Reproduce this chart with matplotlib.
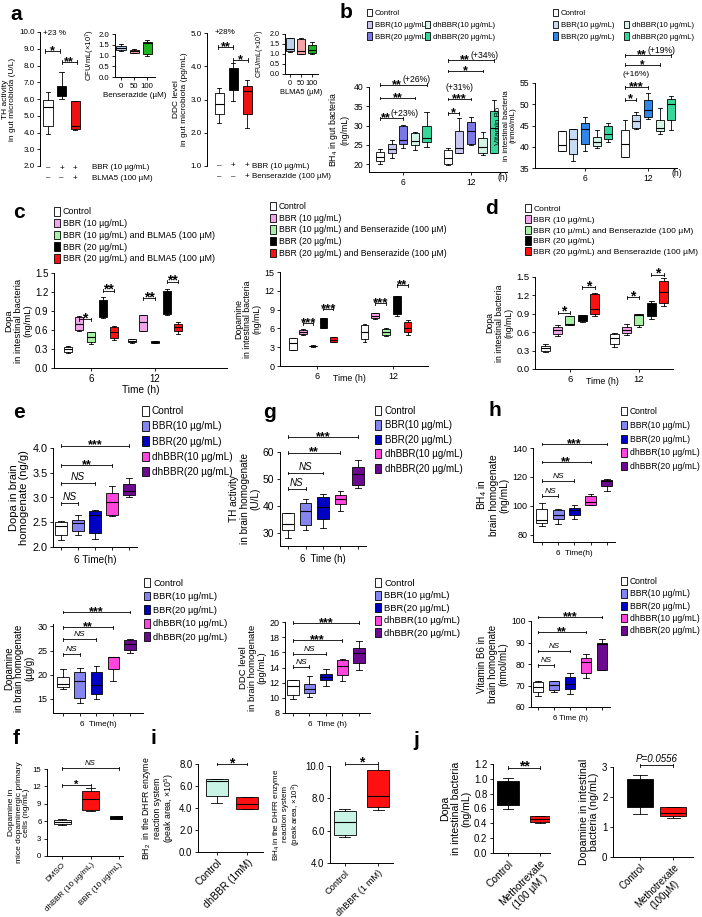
import numpy as np
import matplotlib.pyplot as plt
from matplotlib.patches import Patch
from matplotlib.transforms import blended_transform_factory

plt.rcParams['font.family'] = ['Liberation Sans', 'DejaVu Sans']
plt.rcParams['mathtext.default'] = 'regular'
plt.rcParams['axes.linewidth'] = 0.7

# ---- data: [whisker low, Q1, median, Q3, whisker high] per box ----
A_TH = [[3.9, 4.4, 5.5, 5.95, 6.4], [6.0, 6.2, 6.5, 6.8, 7.6], [4.15, 4.2, 4.4, 5.9, 5.9]]
A_TH_CFU = [[1.2, 1.25, 1.35, 1.45, 1.55], [1.1, 1.12, 1.2, 1.27, 1.3], [1.0, 1.05, 1.6, 1.65, 1.7]]
A_DDC = [[2.3, 2.55, 2.85, 3.2, 3.35], [2.95, 3.3, 3.6, 3.95, 4.1], [2.15, 2.55, 3.25, 3.4, 3.6]]
A_DDC_CFU = [[1.1, 1.15, 1.25, 1.8, 1.8], [1.0, 1.02, 1.15, 1.75, 1.8], [1.0, 1.05, 1.2, 1.45, 1.6]]
CFU_DOSES = ['0', '50', '100']

B_BH4_6 = [[20.0, 20.8, 22.0, 23.2, 24.0], [21.5, 23.0, 23.9, 25.2, 26.4], [24.2, 25.2, 26.3, 29.9, 30.2],
           [23.8, 25.1, 26.1, 28.0, 28.3], [24.5, 25.7, 26.7, 29.9, 33.6]]
B_BH4_12 = [[19.9, 20.0, 21.5, 23.7, 24.2], [22.8, 22.9, 24.3, 28.6, 32.0], [25.0, 25.2, 28.7, 30.9, 32.3],
            [22.3, 23.0, 24.5, 26.7, 28.3], [22.8, 23.0, 29.3, 33.7, 36.7]]
B_VB6_6 = [[39.1, 39.1, 40.3, 43.7, 43.8], [36.6, 38.3, 41.8, 44.1, 44.1], [39.1, 40.7, 44.1, 45.5, 47.1],
           [39.7, 40.2, 41.2, 42.4, 43.9], [41.2, 41.8, 43.0, 44.9, 45.7]]
B_VB6_12 = [[37.5, 37.7, 40.7, 43.9, 46.4], [44.2, 44.3, 46.0, 47.5, 48.2], [46.5, 46.9, 48.6, 51.0, 52.6],
            [43.0, 43.8, 44.3, 46.3, 49.2], [44.0, 46.4, 50.0, 51.3, 52.0]]

C_DOPA_6 = [[0.24, 0.25, 0.30, 0.33, 0.34], [0.58, 0.60, 0.70, 0.80, 0.82], [0.38, 0.41, 0.49, 0.57, 0.57],
            [0.79, 0.81, 0.95, 1.07, 1.12], [0.44, 0.48, 0.57, 0.64, 0.66]]
C_DOPA_12 = [[0.40, 0.41, 0.43, 0.46, 0.46], [0.58, 0.59, 0.73, 0.84, 0.84], [0.40, 0.40, 0.41, 0.42, 0.42],
             [0.83, 0.85, 1.05, 1.22, 1.25], [0.54, 0.58, 0.64, 0.70, 0.72]]
C_DA_6 = [[2.5, 2.6, 3.6, 4.4, 4.5], [5.0, 5.1, 5.5, 5.8, 5.9], [3.1, 3.15, 3.2, 3.25, 3.3],
          [6.0, 6.1, 7.0, 7.6, 7.7], [3.8, 3.8, 4.2, 4.6, 4.7]]
C_DA_12 = [[3.9, 4.3, 5.5, 6.5, 6.7], [7.5, 7.6, 8.0, 8.4, 8.5], [4.8, 4.9, 5.4, 5.9, 6.0],
           [8.0, 8.3, 9.5, 11.1, 11.2], [5.0, 5.5, 6.1, 7.0, 7.3]]
D_DOPA_6 = [[0.28, 0.30, 0.34, 0.38, 0.40], [0.54, 0.57, 0.63, 0.69, 0.72], [0.72, 0.72, 0.74, 0.86, 0.87],
            [0.77, 0.79, 0.83, 0.88, 0.88], [0.86, 0.89, 0.98, 1.23, 1.24]]
D_DOPA_12 = [[0.36, 0.40, 0.50, 0.57, 0.58], [0.55, 0.58, 0.63, 0.69, 0.73], [0.69, 0.72, 0.88, 0.89, 0.90],
             [0.82, 0.87, 0.97, 1.07, 1.11], [1.03, 1.08, 1.25, 1.44, 1.48]]

E_DOPA = [[2.15, 2.25, 2.42, 2.5, 2.52], [2.24, 2.33, 2.48, 2.55, 2.64], [2.17, 2.28, 2.65, 2.73, 2.75],
          [2.63, 2.64, 2.9, 3.1, 3.23], [3.02, 3.05, 3.13, 3.27, 3.4]]
G_TH = [[28.0, 31.2, 33.5, 37.5, 37.5], [31.0, 32.8, 38.0, 41.1, 42.5], [31.9, 35.1, 39.6, 43.3, 44.4],
        [38.3, 40.9, 42.7, 44.1, 45.4], [46.5, 47.7, 52.0, 54.4, 56.9]]
H_BH4 = [[86.2, 88.1, 90.4, 97.8, 101.9], [87.7, 90.8, 93.8, 97.3, 97.9], [91.0, 93.8, 97.3, 98.5, 100.3],
         [100.3, 100.8, 103.0, 107.0, 108.0], [110.4, 113.9, 116.9, 118.1, 118.7]]
E_DA = [[17.0, 17.4, 18.1, 19.6, 21.3], [14.2, 15.2, 18.8, 20.6, 21.5], [14.9, 16.0, 17.9, 20.5, 21.8],
        [18.8, 21.1, 23.6, 23.7, 23.7], [24.6, 25.2, 26.4, 27.1, 27.5]]
G_DDC = [[9.8, 10.4, 11.6, 12.3, 12.3], [10.1, 10.7, 11.2, 11.8, 12.9], [11.5, 12.3, 12.8, 13.2, 13.8],
         [12.2, 13.0, 14.2, 15.0, 15.1], [13.7, 14.6, 15.9, 16.6, 17.5]]
H_VB6 = [[65.0, 67.0, 69.3, 71.6, 72.0], [67.0, 67.8, 70.1, 71.9, 72.1], [66.1, 68.5, 70.9, 74.0, 76.0],
         [73.5, 75.8, 80.9, 82.9, 84.7], [77.0, 77.4, 89.1, 89.8, 91.5]]

F_DA = [[5.3, 5.5, 5.9, 6.2, 6.3], [7.7, 8.0, 9.8, 11.2, 11.7], [6.3, 6.35, 6.6, 6.85, 6.9]]
I_BH2 = [[4.5, 5.06, 6.48, 6.64, 6.64], [3.9, 3.94, 4.36, 4.97, 5.0]]
I_BH4 = [[5.6, 5.74, 6.52, 7.21, 7.35], [7.28, 7.48, 8.16, 9.74, 10.06]]
J_DOPA = [[0.6, 0.65, 0.8, 0.97, 1.01], [0.41, 0.42, 0.46, 0.50, 0.50]]
J_DA = [[1.44, 1.67, 2.2, 2.61, 2.75], [1.29, 1.37, 1.48, 1.67, 1.67]]

LAB_B = ['Control', 'BBR(10 µg/mL)', 'BBR(20 µg/mL)', 'dhBBR(10 µg/mL)', 'dhBBR(20 µg/mL)']
LAB_C1 = ['Control', 'BBR (10 µg/mL)', 'BBR (10 µg/mL) and BLMA5 (100 µM)', 'BBR (20 µg/mL)',
          'BBR (20 µg/mL) and BLMA5 (100 µM)']
LAB_C2 = ['Control', 'BBR (10 µg/mL)', 'BBR (10 µg/mL) and Benserazide (100 µM)', 'BBR (20 µg/mL)',
          'BBR (20 µg/mL) and Benserazide (100 µM)']
LAB_D = ['Control', 'BBR (10 µg/mL)', 'BBR (10 µ/mL) and Benserazide (100 µM)', 'BBR (20 µg/mL)',
         'BBR (20 µg/mL) and Benserazide (100 µM)']
LAB_E = ['Control', 'BBR(10 µg/mL)', 'BBR(20 µg/mL)', 'dhBBR(10 µg/mL)', 'dhBBR(20 µg/mL)']

COL_BL = ['white', '#c9c6f2', '#7b78e6', '#d4f5e6', '#35d89a']
COL_BR = ['white', '#c6dcf5', '#2f86e8', '#d4f5e6', '#35d89a']
COL_C = ['white', '#f2a6ea', '#a8f0a8', 'black', '#ff1010']
COL_E = ['white', '#8585f2', '#0000c4', '#ff45dc', '#6b0a8f']
COL_CFU = ['#b9d3ee', '#f4a6a6', '#1db41d']

W, H = 702, 917
fig = plt.figure(figsize=(W / 100, H / 100), dpi=100)


def add_ax(x0, y0, x1, y1):
    return fig.add_axes([x0 / W, 1 - y1 / H, (x1 - x0) / W, (y1 - y0) / H])


def boxes(ax, data, pos, colors, width):
    stats = [dict(whislo=d[0], q1=d[1], med=d[2], q3=d[3], whishi=d[4]) for d in data]
    bp = ax.bxp(stats, positions=pos, widths=width, patch_artist=True, showfliers=False,
                manage_ticks=False, boxprops=dict(linewidth=0.6, edgecolor='k'),
                whiskerprops=dict(linewidth=0.6, color='k'), capprops=dict(linewidth=0.6, color='k'),
                medianprops=dict(linewidth=0.8, color='k'))
    for b, c in zip(bp['boxes'], colors):
        b.set_facecolor(c)


def frame(ax, xlim, ylim, yticks, fmt, fs):
    ax.set_xlim(xlim)
    ax.set_ylim(ylim)
    ax.set_yticks(yticks)
    ax.set_yticklabels([fmt.format(v) for v in yticks])
    ax.spines[['top', 'right']].set_visible(False)
    ax.tick_params(length=2.5, width=0.6, labelsize=fs, pad=1.5)
    ax.patch.set_alpha(0)


def ylab(ax, txt, fs, pad=2):
    ax.set_ylabel(txt, fontsize=fs, labelpad=pad, linespacing=1.05)


def sig(ax, x1, x2, y, txt, extra=None, size=9, fs=6):
    cap = np.diff(ax.get_ylim())[0] * 0.015
    ax.plot([x1, x2], [y, y], color='k', lw=0.6, clip_on=False)
    for x in (x1, x2):
        ax.plot([x, x], [y - cap, y + cap], color='k', lw=0.6, clip_on=False)
    xm = (x1 + x2) / 2
    if txt == 'NS' or txt.startswith('P='):
        ax.annotate(txt, (xm, y), xytext=(0, 0.8), textcoords='offset points', ha='center',
                    va='bottom', fontsize=fs, style='italic', annotation_clip=False)
    elif extra:
        ax.annotate(txt, (xm, y), xytext=(-1, -2.2), textcoords='offset points', ha='right',
                    va='baseline', fontsize=size, fontweight='bold', annotation_clip=False)
        ax.annotate(extra, (xm, y), xytext=(-0.5, 3.4), textcoords='offset points', ha='left',
                    va='center', fontsize=fs, annotation_clip=False)
    else:
        ax.annotate(txt, (xm, y), xytext=(0, -2.2), textcoords='offset points', ha='center',
                    va='baseline', fontsize=size, fontweight='bold', annotation_clip=False)


def legend(x, y, labels, colors, fs, spacing=0.3):
    hs = [Patch(facecolor=c, edgecolor='k', lw=0.6) for c in colors]
    fig.legend(hs, labels, loc='upper left', bbox_to_anchor=(x / W, 1 - y / H), frameon=False,
               fontsize=fs, handlelength=0.65, handleheight=1.1, handletextpad=0.35,
               labelspacing=spacing, borderpad=0, borderaxespad=0)


def letter(x, y, s):
    fig.text(x / W, 1 - y / H, s, fontsize=15, fontweight='bold', ha='left', va='center')


def grp(center, step, n=5):
    return center + (np.arange(n) - (n - 1) / 2) * step


def rot_labels(ax, labels, fs):
    ax.set_xticks(np.arange(1, len(labels) + 1))
    ax.set_xticklabels(labels, rotation=45, ha='right', va='top', rotation_mode='anchor',
                       fontsize=fs, multialignment='center')


# ---------------- panel a ----------------
letter(10, 14, 'a')
ax = add_ax(40, 32, 86, 166)
boxes(ax, A_TH, [1, 2, 3], ['white', 'black', '#ee1111'], 0.68)
frame(ax, (0.41, 3.8), (2, 10), np.arange(2, 10.1, 1), '{:.1f}', 5.8)
ax.spines['bottom'].set_visible(False)
ax.set_xticks([])
ylab(ax, 'TH activity\nin gut microbiota (U/L)', 6)
ax.text(0.63, 9.9, '+23 %', fontsize=5.8, va='center')
sig(ax, 0.8, 1.9, 8.87, '*')
sig(ax, 2.0, 3.1, 8.2, '**')
tr = blended_transform_factory(ax.transData, ax.transAxes)
for i, (s1, s2) in enumerate(zip(['–', '+', '+'], ['–', '–', '+'])):
    ax.text(i + 1, -0.015, s1, transform=tr, ha='center', va='center', fontsize=5.8)
    ax.text(i + 1, -0.09, s2, transform=tr, ha='center', va='center', fontsize=5.8)
ax.text(4.26, -0.01, 'BBR (10 µg/mL)', transform=tr, va='center', fontsize=5.8)
ax.text(4.26, -0.09, 'BLMA5 (100 µM)', transform=tr, va='center', fontsize=5.8)

ax = add_ax(115, 34, 155, 77)
boxes(ax, A_TH_CFU, [1, 2, 3], COL_CFU, 0.7)
frame(ax, (0.54, 3.6), (0, 2), np.arange(0, 2.01, 0.5), '{:.1f}', 5.6)
ax.set_xticks([1, 2, 3])
ax.set_xticklabels(CFU_DOSES)
ax.set_xlabel('Benserazide (µM)', fontsize=5.8, labelpad=1.5)
ylab(ax, 'CFU/mL(×10$^7$)', 5.6, 1.5)

ax = add_ax(207, 33, 255, 166)
boxes(ax, A_DDC, [1, 2, 3], ['white', 'black', '#ee1111'], 0.64)
frame(ax, (0.14, 3.57), (1, 5), np.arange(1, 5.1, 1), '{:.1f}', 5.8)
ax.spines['bottom'].set_visible(False)
ax.set_xticks([])
ylab(ax, 'DDC level\nin gut microbiota (pg/mL)', 6)
ax.text(0.71, 5.0, '+28%', fontsize=5.8, va='center')
sig(ax, 0.93, 2.0, 4.58, '**')
sig(ax, 2.0, 3.07, 4.19, '*')
tr = blended_transform_factory(ax.transData, ax.transAxes)
for i, (s1, s2) in enumerate(zip(['–', '+', '+'], ['–', '–', '+'])):
    ax.text(i + 1, 0.0, s1, transform=tr, ha='center', va='center', fontsize=5.8)
    ax.text(i + 1, -0.08, s2, transform=tr, ha='center', va='center', fontsize=5.8)
ax.text(3.35, 0.0, 'BBR (10 µg/mL)', transform=tr, va='center', fontsize=5.8)
ax.text(3.35, -0.08, 'Benserazide (100 µM)', transform=tr, va='center', fontsize=5.8)

ax = add_ax(285, 34, 318, 74)
boxes(ax, A_DDC_CFU, [1, 2, 3], COL_CFU, 0.7)
frame(ax, (0.55, 3.55), (0, 2), np.arange(0, 2.01, 0.5), '{:.1f}', 5.2)
ax.set_xticks([1, 2, 3])
ax.set_xticklabels(CFU_DOSES)
ax.set_xlabel('BLMA5 (µM)', fontsize=5.4, labelpad=1.5)
ylab(ax, 'CFU/mL(×10$^7$)', 5.2, 1.5)

# ---------------- panel b ----------------
letter(340, 12, 'b')
legend(367, 9, LAB_B[:3], COL_BL[:3], 5.6, 0.42)
legend(425, 20.5, LAB_B[3:], COL_BL[3:], 5.6, 0.42)
ax = add_ax(369, 87, 507, 172)
p6, p12 = grp(6, 1.03), grp(12, 1.03)
boxes(ax, B_BH4_6, p6, COL_BL, 0.72)
boxes(ax, B_BH4_12, p12, COL_BL, 0.72)
frame(ax, (2.96, 15.2), (18, 40), [20, 25, 30, 35, 40], '{:g}', 6.2)
ax.set_xticks([6, 12])
ax.text(0.97, -0.07, '(h)', transform=ax.transAxes, ha='center', va='center', fontsize=6.2)
ylab(ax, 'BH$_4$ in gut bacteria\n(ng/mL)', 6.3, 3)
sig(ax, p6[0], p6[2], 31.9, '**', '(+23%)', fs=6.2)
sig(ax, p6[0], p6[3], 37.1, '**')
sig(ax, p6[0], p6[4], 40.6, '**', '(+26%)', fs=6.2)
sig(ax, p12[0], p12[1], 33.2, '*')
sig(ax, p12[0], p12[2], 36.9, '***')
ax.text((p12[0] + p12[2]) / 2, 40.0, '(+31%)', ha='center', va='center', fontsize=6.2)
sig(ax, p12[0], p12[3], 44.1, '*')
sig(ax, p12[0], p12[4], 46.9, '**', '(+34%)', fs=6.2)

legend(553, 9, LAB_B[:3], COL_BR[:3], 5.6, 0.42)
legend(624, 20.5, LAB_B[3:], COL_BR[3:], 5.6, 0.42)
ax = add_ax(535, 83, 677, 168)
p6, p12 = grp(6, 1.1), grp(12, 1.1)
boxes(ax, B_VB6_6, p6, COL_BR, 0.76)
boxes(ax, B_VB6_12, p12, COL_BR, 0.76)
frame(ax, (1.24, 14.76), (35, 55), [35, 40, 45, 50, 55], '{:g}', 6.2)
ax.set_xticks([6, 12])
ax.text(1.0, -0.07, '(h)', transform=ax.transAxes, ha='center', va='center', fontsize=6.2)
ylab(ax, 'Vitamin B6\nin intestinal bacteria\n(nmol/mL)', 5.8)
sig(ax, p12[0], p12[1], 51.1, '*')
sig(ax, p12[0], p12[2], 54.0, '***')
ax.text((p12[0] + p12[2]) / 2, 57.1, '(+16%)', ha='center', va='center', fontsize=6.0)
sig(ax, p12[0], p12[3], 59.3, '*', size=8.5)
sig(ax, p12[0], p12[4], 61.5, '**', '(+19%)', fs=6.2)

# ---------------- panel c ----------------
letter(13, 212, 'c')
legend(54, 207, LAB_C1, COL_C, 6.4, 0.28)
ax = add_ax(54, 273, 227, 368)
p6, p12 = grp(6, 1.1), grp(12, 1.1)
boxes(ax, C_DOPA_6, p6, COL_C, 0.75)
boxes(ax, C_DOPA_12, p12, COL_C, 0.75)
frame(ax, (2.53, 18.75), (0, 1.5), np.arange(0, 1.51, 0.3), '{:.1f}', 7)
ax.set_xticks([6, 12])
ax.set_xlabel('Time (h)', fontsize=7.3, labelpad=1)
ylab(ax, 'Dopa\nin intestinal bacteria\n(ng/mL)', 6.8)
sig(ax, p6[1], p6[2], 0.77, '*', size=10)
sig(ax, p6[3], p6[4], 1.22, '**', size=10)
sig(ax, p12[1], p12[2], 1.10, '**', size=10)
sig(ax, p12[3], p12[4], 1.36, '**', size=10)

legend(270, 202, LAB_C2, COL_C, 6.2, 0.3)
ax = add_ax(280, 272, 428, 366)
p6, p12 = grp(5.7, 0.8), grp(11.45, 0.85)
boxes(ax, C_DA_6, p6, COL_C, 0.6)
boxes(ax, C_DA_12, p12, COL_C, 0.6)
frame(ax, (3.08, 14.76), (0, 15), np.arange(0, 15.1, 3), '{:g}', 6.5)
ax.set_xticks([6, 12])
ax.text(0.47, -0.13, 'Time (h)', transform=ax.transAxes, ha='center', va='center', fontsize=6.4)
ylab(ax, 'Dopamine\nin intestinal bacteria\n(ng/mL)', 6.3)
sig(ax, p6[1], p6[2], 6.8, '***', size=9.5)
sig(ax, p6[3], p6[4], 9.1, '***', size=9.5)
sig(ax, p12[1], p12[2], 10.0, '***', size=9.5)
sig(ax, p12[3], p12[4], 12.9, '**', size=9.5)

# ---------------- panel d ----------------
letter(485, 209, 'd')
legend(525, 204, LAB_D, COL_C, 6.1, 0.22)
ax = add_ax(535, 277, 673, 369)
p6, p12 = grp(6, 1.07), grp(12, 1.07)
boxes(ax, D_DOPA_6, p6, COL_C, 0.78)
boxes(ax, D_DOPA_12, p12, COL_C, 0.78)
frame(ax, (2.96, 14.96), (0, 1.5), np.arange(0, 1.51, 0.3), '{:.1f}', 6.8)
ax.set_xticks([6, 12])
ax.text(0.49, -0.14, 'Time (h)', transform=ax.transAxes, ha='center', va='center', fontsize=6.4)
ylab(ax, 'Dopa\nin intestinal bacteria\n(ng/mL)', 6.3)
sig(ax, p6[1], p6[2], 0.92, '*', size=10)
sig(ax, p6[3], p6[4], 1.33, '*', size=10)
sig(ax, p12[1], p12[2], 1.17, '*', size=10)
sig(ax, p12[3], p12[4], 1.54, '*', size=10)


# ---------------- panels e, g, h ----------------
def brain(rect, data, xlim, ylim, yticks, fmt, fs, label, lfs, marks, xlab, sfs=9):
    ax = add_ax(*rect)
    pos = np.arange(1, 6)
    boxes(ax, data, pos, COL_E, 0.68)
    frame(ax, xlim, ylim, yticks, fmt, fs)
    ax.set_xticks(pos)
    ax.set_xticklabels([])
    ax.tick_params(axis='x', length=2)
    ax.set_xlabel(xlab, fontsize=fs - 0.6, labelpad=2)
    ylab(ax, label, lfs)
    for j, (y, t) in enumerate(marks):
        sig(ax, 1, j + 2, y, t, size=sfs, fs=fs - 0.5)
    return ax


letter(13, 413, 'e')
legend(142, 406, LAB_E, COL_E, 7.2, 0.5)
brain((53, 448, 137, 547), E_DOPA, (0.53, 5.47), (2.0, 4.0), [2.0, 2.5, 3.0, 3.5, 4.0], '{:.1f}', 7.8,
      'Dopa in brain\nhomogenate (ng/g)', 8, [(2.88, 'NS'), (3.29, 'NS'), (3.65, '**'), (4.05, '***')],
      '6 Time(h)')

letter(263, 413, 'g')
legend(375, 406, LAB_E, COL_E, 7.0, 0.45)
brain((280, 452, 366, 546), G_TH, (0.54, 5.46), (25.2, 60), [30, 40, 50, 60], '{:g}', 7.5,
      'TH activity\nin brain homogenate\n(U/L)', 7.2, [(46.4, 'NS'), (52.2, 'NS'), (59.8, '**'), (65.6, '***')],
      '6  Time (h)')

letter(488, 411, 'h')
legend(621, 407, LAB_E, COL_E, 6.2, 0.55)
brain((533, 448, 615, 542), H_BH4, (0.45, 5.5), (75, 140), [80, 100, 120, 140], '{:g}', 6.5,
      'BH$_4$ in\nbrain homogenate\n(ng/mL)', 7.3, [(107, 'NS'), (117.4, 'NS'), (130.3, '**'), (142.8, '***')],
      '6  Time(h)')

legend(144, 578, LAB_E, COL_E, 6.7, 0.42)
brain((53, 624, 143, 713), E_DA, (0.4, 5.78), (12.1, 30.5), [15, 20, 25, 30], '{:g}', 6.5,
      'Dopamine\nin brain homogenate\n(µg/g)', 6.9, [(24.2, 'NS'), (27.3, 'NS'), (29.8, '**'), (33.0, '***')],
      '6  Time(h)')

legend(375, 578, LAB_E, COL_E, 6.8, 0.3)
brain((285, 622, 370, 713), G_DDC, (0.52, 5.67), (8, 20), np.arange(8, 20.1, 2), '{:g}', 6.5,
      'DDC level\nin brain homogenate\n(pg/mL)', 6.8, [(14.1, 'NS'), (15.8, 'NS'), (17.6, '***'), (19.9, '***')],
      '6  Time (h)')

legend(621, 577, LAB_E, COL_E, 6.2, 0.38)
brain((531, 621, 610, 707), H_VB6, (0.56, 5.5), (60, 100), [60, 70, 80, 90, 100], '{:g}', 6.2,
      'Vitamin B6 in\nbrain homogenate\n(nmol/mL)', 7.0, [(79.4, 'NS'), (86.0, 'NS'), (94.9, '**'), (101.9, '***')],
      '6 Time (h)')

# ---------------- panel f ----------------
letter(13, 738, 'f')
ax = add_ax(47, 769, 123, 856)
boxes(ax, F_DA, [1, 2, 3], ['white', '#ff1010', 'black'], 0.6)
frame(ax, (0.47, 3.14), (0, 15), np.arange(0, 15.1, 3), '{:g}', 5.6)
rot_labels(ax, ['DMSO', 'dhBBR (10 µg/mL)', 'BBR (10 µg/mL)'], 5.8)
ylab(ax, 'Dopamine in\nmice dopaminergic primary\ncells (ng/mL)', 6)
sig(ax, 1, 2, 12.2, '*', size=8)
sig(ax, 1, 3, 15.1, 'NS', fs=5.6)

# ---------------- panel i ----------------
letter(150, 738, 'i')
ax = add_ax(198, 764, 263, 852)
boxes(ax, I_BH2, [1, 2], ['#c8f5e5', '#ff1010'], 0.73)
frame(ax, (0.37, 2.53), (0, 8), np.arange(0, 8.1, 2), '{:.1f}', 6.9)
rot_labels(ax, ['Control', 'dhBBR (1mM)'], 7.3)
ylab(ax, 'BH$_2$  in the DHFR enzyme\nreaction system\n(peak area, ×10$^5$)', 6.3)
sig(ax, 1, 2, 8.0, '*', size=10)

ax = add_ax(330, 766, 393, 863)
boxes(ax, I_BH4, [1, 2], ['#c8f5e5', '#ff1010'], 0.67)
frame(ax, (0.55, 2.45), (4, 10), np.arange(4, 10.1, 2), '{:.1f}', 6.9)
rot_labels(ax, ['Control', 'dhBBR (1 mM)'], 6.7)
ylab(ax, 'BH$_4$ in the DHFR enzyme\nreaction system\n(peak area, ×10$^3$)', 5.8)
sig(ax, 1, 2, 10.15, '*', size=10)

# ---------------- panel j ----------------
letter(413, 740, 'j')
ax = add_ax(493, 764, 550, 853)
boxes(ax, J_DOPA, [1, 2], ['black', '#ff1010'], 0.66)
frame(ax, (0.53, 2.31), (0, 1.2), np.arange(0, 1.21, 0.2), '{:.1f}', 6.9)
rot_labels(ax, ['Control', 'Methotrexate\n(100 µM )'], 7.4)
ylab(ax, 'Dopa\nin intestinal bacteria\n(ng/mL)', 7.6)
sig(ax, 1, 2, 1.15, '**', size=10)

ax = add_ax(613, 767, 693, 857)
boxes(ax, J_DA, [1, 2], ['black', '#ff1010'], 0.8)
frame(ax, (0.18, 2.6), (0, 3), [0, 1, 2, 3], '{:g}', 7)
rot_labels(ax, ['Control', 'Methotrexate\n(100µM)'], 7.0)
ylab(ax, 'Dopamine in intestinal\nbacteria (ng/mL)', 7.7)
sig(ax, 1, 2, 3.06, 'P=0.0556', fs=7)

fig.savefig('out.png', dpi=100)
